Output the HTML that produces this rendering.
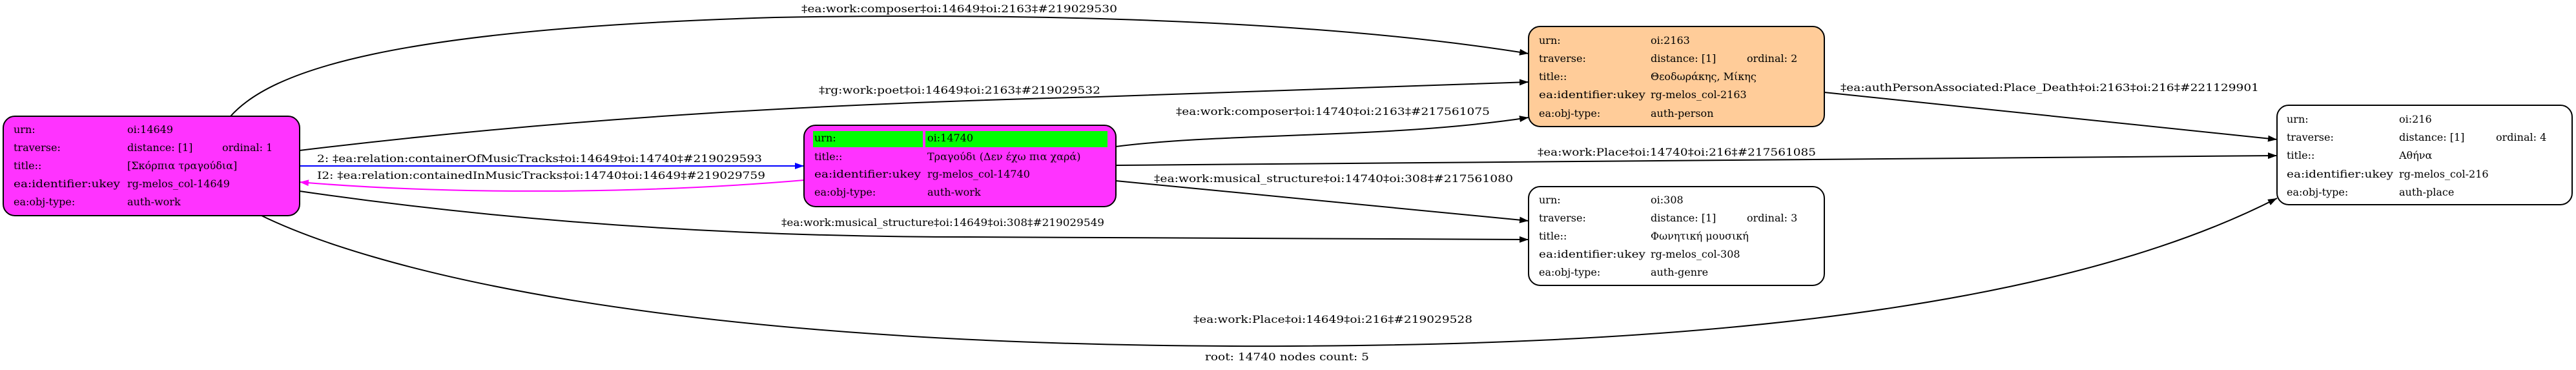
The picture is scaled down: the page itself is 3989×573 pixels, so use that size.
<!DOCTYPE html>
<html><head><meta charset="utf-8"><style>
html,body{margin:0;padding:0;background:#fff;width:3989px;height:573px;overflow:hidden}
svg text{font-family:"DejaVu Serif","Liberation Serif",serif;font-size:16px;fill:#000}
</style></head><body>
<svg width="3989" height="573" viewBox="0 0 3989 573" xmlns="http://www.w3.org/2000/svg">
<defs>
<marker id="ab" markerWidth="14" markerHeight="10" refX="14" refY="5" orient="auto" markerUnits="userSpaceOnUse"><path d="M0,0 L14,5 L0,10 z" fill="#000"/></marker>
<marker id="abl" markerWidth="14" markerHeight="10" refX="14" refY="5" orient="auto" markerUnits="userSpaceOnUse"><path d="M0,0 L14,5 L0,10 z" fill="#0000ff"/></marker>
<marker id="am" markerWidth="14" markerHeight="10" refX="14" refY="5" orient="auto" markerUnits="userSpaceOnUse"><path d="M0,0 L14,5 L0,10 z" fill="#ff00ff"/></marker>
</defs>
<g fill="none" stroke="#000" stroke-width="2">
<path d="M357,180 C420,110 600,45 1200,27 C1700,18 2100,40 2367,83" marker-end="url(#ab)"/>
<path d="M464,233 C900,180 1300,160 1700,150 C2000,140 2200,132 2367,127" marker-end="url(#ab)"/>
<path d="M464,296 C800,345 1150,367 1500,367 C1900,368 2200,370 2367,371" marker-end="url(#ab)"/>
<path d="M403,333 C560,410 1000,540 1997,536 C2500,534 3150,500 3526,307" marker-end="url(#ab)"/>
<path d="M1728,227 C1900,205 2150,215 2367,182" marker-end="url(#ab)"/>
<path d="M1728,256 L3526,241" marker-end="url(#ab)"/>
<path d="M1728,280 L2367,342" marker-end="url(#ab)"/>
<path d="M2825,143 L3526,216" marker-end="url(#ab)"/>
<path d="M464,257 L1245,257" stroke="#0000ff" marker-end="url(#abl)"/>
<path d="M1245,279 C1000,300 700,302 464,282" stroke="#ff00ff" marker-end="url(#am)"/>
</g>
<text x="1241" y="19" textLength="489" lengthAdjust="spacingAndGlyphs">‡ea:work:composer‡oi:14649‡oi:2163‡#219029530</text>
<text x="1268" y="145" textLength="436" lengthAdjust="spacingAndGlyphs">‡rg:work:poet‡oi:14649‡oi:2163‡#219029532</text>
<text x="491" y="251" textLength="689" lengthAdjust="spacingAndGlyphs">2: ‡ea:relation:containerOfMusicTracks‡oi:14649‡oi:14740‡#219029593</text>
<text x="491" y="277" textLength="694" lengthAdjust="spacingAndGlyphs">I2: ‡ea:relation:containedInMusicTracks‡oi:14740‡oi:14649‡#219029759</text>
<text x="1210" y="350" textLength="500" lengthAdjust="spacingAndGlyphs">‡ea:work:musical_structure‡oi:14649‡oi:308‡#219029549</text>
<text x="1821" y="178" textLength="486" lengthAdjust="spacingAndGlyphs">‡ea:work:composer‡oi:14740‡oi:2163‡#217561075</text>
<text x="2381" y="241" textLength="431" lengthAdjust="spacingAndGlyphs">‡ea:work:Place‡oi:14740‡oi:216‡#217561085</text>
<text x="1787" y="282" textLength="556" lengthAdjust="spacingAndGlyphs">‡ea:work:musical_structure‡oi:14740‡oi:308‡#217561080</text>
<text x="2850" y="141" textLength="648" lengthAdjust="spacingAndGlyphs">‡ea:authPersonAssociated:Place_Death‡oi:2163‡oi:216‡#221129901</text>
<text x="1848" y="500" textLength="432" lengthAdjust="spacingAndGlyphs">‡ea:work:Place‡oi:14649‡oi:216‡#219029528</text>
<text x="1866" y="558" textLength="254" lengthAdjust="spacingAndGlyphs">root: 14740 nodes count: 5</text>
<rect x="5" y="180" width="459" height="154" rx="18" fill="#ff33ff" stroke="#000" stroke-width="2"/>
<text x="21" y="206">urn:</text><text x="197" y="206">oi:14649</text>
<text x="21" y="234">traverse:</text><text x="197" y="234">distance: [1]</text><text x="344" y="234">ordinal: 1</text>
<text x="21" y="262">title::</text><text x="197" y="262">[Σκόρπια τραγούδια]</text>
<text x="21" y="290" textLength="165" lengthAdjust="spacingAndGlyphs">ea:identifier:ukey</text><text x="197" y="290">rg-melos_col-14649</text>
<text x="21" y="318">ea:obj-type:</text><text x="197" y="318">auth-work</text>
<rect x="1245" y="194" width="483" height="126" rx="18" fill="#ff33ff" stroke="#000" stroke-width="2"/>
<rect x="1259" y="203" width="170" height="25" fill="#00ff00"/>
<rect x="1433" y="203" width="282" height="25" fill="#00ff00"/>
<text x="1261" y="219">urn:</text><text x="1436" y="219">oi:14740</text>
<text x="1261" y="248">title::</text><text x="1436" y="248">Τραγούδι (Δεν έχω πια χαρά)</text>
<text x="1261" y="275" textLength="165" lengthAdjust="spacingAndGlyphs">ea:identifier:ukey</text><text x="1436" y="275">rg-melos_col-14740</text>
<text x="1261" y="303">ea:obj-type:</text><text x="1436" y="303">auth-work</text>
<rect x="2367" y="41" width="458" height="155" rx="18" fill="#ffcc99" stroke="#000" stroke-width="2"/>
<text x="2383" y="68">urn:</text><text x="2556" y="68">oi:2163</text>
<text x="2383" y="96">traverse:</text><text x="2556" y="96">distance: [1]</text><text x="2705" y="96">ordinal: 2</text>
<text x="2383" y="124">title::</text><text x="2556" y="124">Θεοδωράκης, Μίκης</text>
<text x="2383" y="152" textLength="165" lengthAdjust="spacingAndGlyphs">ea:identifier:ukey</text><text x="2556" y="152">rg-melos_col-2163</text>
<text x="2383" y="181">ea:obj-type:</text><text x="2556" y="181">auth-person</text>
<rect x="2367" y="289" width="458" height="153" rx="18" fill="#fff" stroke="#000" stroke-width="2"/>
<text x="2383" y="315">urn:</text><text x="2556" y="315">oi:308</text>
<text x="2383" y="343">traverse:</text><text x="2556" y="343">distance: [1]</text><text x="2705" y="343">ordinal: 3</text>
<text x="2383" y="371">title::</text><text x="2556" y="371">Φωνητική μουσική</text>
<text x="2383" y="399" textLength="165" lengthAdjust="spacingAndGlyphs">ea:identifier:ukey</text><text x="2556" y="399">rg-melos_col-308</text>
<text x="2383" y="427">ea:obj-type:</text><text x="2556" y="427">auth-genre</text>
<rect x="3526" y="163" width="457" height="154" rx="18" fill="#fff" stroke="#000" stroke-width="2"/>
<text x="3541" y="190">urn:</text><text x="3715" y="190">oi:216</text>
<text x="3541" y="218">traverse:</text><text x="3715" y="218">distance: [1]</text><text x="3865" y="218">ordinal: 4</text>
<text x="3541" y="246">title::</text><text x="3715" y="246">Αθήνα</text>
<text x="3541" y="275" textLength="165" lengthAdjust="spacingAndGlyphs">ea:identifier:ukey</text><text x="3715" y="275">rg-melos_col-216</text>
<text x="3541" y="303">ea:obj-type:</text><text x="3715" y="303">auth-place</text>
</svg>
</body></html>
